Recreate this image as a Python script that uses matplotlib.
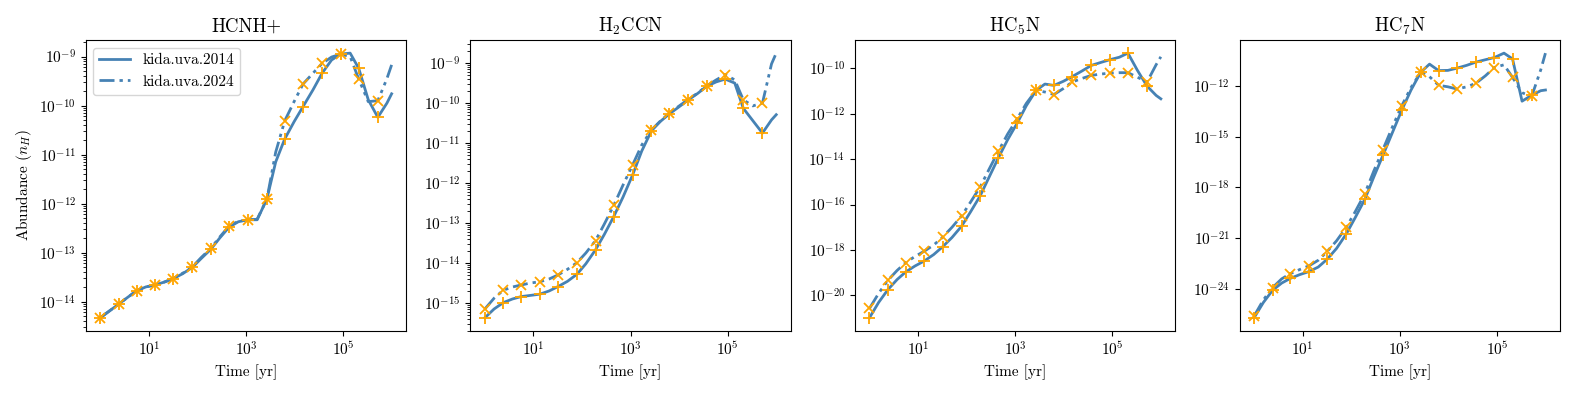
import numpy as np
import matplotlib
matplotlib.use("Agg")
import matplotlib.pyplot as plt
from matplotlib.ticker import NullLocator

plt.rcParams['font.family'] = 'serif'
plt.rcParams['font.serif'] = ['cmr10', 'DejaVu Serif']
plt.rcParams['mathtext.fontset'] = 'cm'
plt.rcParams['axes.formatter.use_mathtext'] = True
plt.rcParams['axes.unicode_minus'] = False

# Time grid [yr]
time_yr = [1, 1.55, 2.4, 3.7, 5.6, 8.7, 13.5, 21, 32, 50, 79, 120, 190, 290, 450,
           700, 1100, 1700, 2700, 4100, 6300, 9800, 15000, 24000, 37000, 58000,
           89000, 140000, 210000, 330000, 520000, 800000, 1000000]

species = ["HCNH+", "H$_2$CCN", "HC$_5$N", "HC$_7$N"]
networks = ["kida.uva.2014", "kida.uva.2024"]

# log10 abundances
hcnh_2014 = [-14.33, -14.19, -14.05, -13.91, -13.78, -13.70, -13.66, -13.60, -13.53, -13.43,
             -13.30, -13.12, -12.93, -12.70, -12.48, -12.37, -12.33, -12.33, -11.91, -11.15,
             -10.68, -10.33, -10.02, -9.68, -9.34, -9.07, -8.95, -8.93, -9.24, -9.88,
             -10.24, -9.95, -9.76]
hcnh_2024 = [-14.33, -14.19, -14.05, -13.91, -13.78, -13.70, -13.66, -13.60, -13.53, -13.42,
             -13.29, -13.10, -12.91, -12.68, -12.46, -12.36, -12.33, -12.32, -11.91, -10.95,
             -10.31, -9.92, -9.56, -9.34, -9.14, -9.01, -8.95, -9.00, -9.46, -9.92,
             -9.90, -9.45, -9.17]

h2ccn_2014 = [-15.37, -15.15, -14.99, -14.90, -14.84, -14.81, -14.78, -14.70, -14.59, -14.46,
              -14.28, -14.02, -13.67, -13.28, -12.84, -12.35, -11.80, -11.20, -10.69, -10.46,
              -10.27, -10.10, -9.93, -9.76, -9.58, -9.47, -9.40, -9.50, -10.13, -10.44,
              -10.75, -10.42, -10.29]
h2ccn_2024 = [-15.15, -14.88, -14.68, -14.60, -14.55, -14.50, -14.47, -14.40, -14.30, -14.16,
              -13.99, -13.75, -13.44, -13.02, -12.56, -12.05, -11.55, -11.05, -10.67, -10.45,
              -10.25, -10.08, -9.92, -9.75, -9.57, -9.42, -9.29, -9.42, -9.92, -10.07,
              -10.00, -9.02, -8.75]

hc5n_2014 = [-20.98, -20.30, -19.74, -19.30, -18.96, -18.70, -18.48, -18.20, -17.86, -17.45,
             -16.95, -16.33, -15.62, -14.80, -13.95, -13.15, -12.42, -11.65, -10.98, -10.70,
             -10.76, -10.58, -10.37, -10.12, -9.88, -9.75, -9.63, -9.52, -9.34, -10.10,
             -10.79, -11.20, -11.35]
hc5n_2024 = [-20.57, -19.90, -19.33, -18.90, -18.55, -18.28, -18.05, -17.78, -17.44, -17.00,
             -16.50, -15.90, -15.23, -14.45, -13.66, -12.90, -12.23, -11.55, -10.98, -11.05,
             -11.16, -10.90, -10.61, -10.45, -10.32, -10.26, -10.22, -10.20, -10.20, -10.40,
             -10.61, -9.85, -9.50]

hc7n_2014 = [-25.70, -24.80, -24.08, -23.65, -23.37, -23.15, -22.97, -22.70, -22.24, -21.60,
             -20.75, -19.80, -18.71, -17.40, -16.10, -14.78, -13.43, -12.25, -11.19, -10.71,
             -11.09, -11.08, -10.95, -10.78, -10.59, -10.45, -10.32, -10.06, -10.40, -12.90,
             -12.55, -12.28, -12.24]
hc7n_2024 = [-25.60, -24.65, -23.92, -23.40, -23.09, -22.85, -22.63, -22.30, -21.78, -21.15,
             -20.36, -19.45, -18.38, -17.05, -15.76, -14.45, -13.17, -12.10, -11.19, -11.45,
             -11.96, -12.05, -12.18, -12.05, -11.84, -11.40, -10.91, -10.75, -11.49, -12.40,
             -12.62, -11.05, -10.06]

series_2014 = [hcnh_2014, h2ccn_2014, hc5n_2014, hc7n_2014]
series_2024 = [hcnh_2024, h2ccn_2024, hc5n_2024, hc7n_2024]

xtick_exps = [1, 3, 5]
ytick_exps = [
    [-14, -13, -12, -11, -10, -9],
    [-15, -14, -13, -12, -11, -10, -9],
    [-20, -18, -16, -14, -12, -10],
    [-24, -21, -18, -15, -12],
]
minor_y = [True, True, False, False]

line_color = "#4682b4"
marker_color = "#ffa500"

fig, axes = plt.subplots(1, 4, figsize=(15.78, 3.95), dpi=100)
fig.subplots_adjust(left=0.0543, right=0.9886, bottom=0.162, top=0.899, wspace=0.2)

t = np.array(time_yr)
for i, ax in enumerate(axes):
    y14 = 10.0 ** np.array(series_2014[i])
    y24 = 10.0 ** np.array(series_2024[i])
    ax.plot(t, y14, color=line_color, lw=2, ls='-', label=networks[0])
    ax.plot(t, y24, color=line_color, lw=2, ls=(0, (5.4, 1.8, 1.2, 1.8, 1.2, 1.8)),
            label=networks[1])
    ax.plot(t[:31:2], y14[:31:2], ls='none', marker='+', color=marker_color,
            ms=8, mew=1.3, zorder=3)
    ax.plot(t[:31:2], y24[:31:2], ls='none', marker='x', color=marker_color,
            ms=7, mew=1.3, zorder=3)
    ax.set_xscale('log')
    ax.set_yscale('log')
    ax.set_xticks([10.0 ** e for e in xtick_exps])
    ax.xaxis.set_minor_locator(NullLocator())
    ax.set_yticks([10.0 ** e for e in ytick_exps[i]])
    if not minor_y[i]:
        ax.yaxis.set_minor_locator(NullLocator())
    ax.tick_params(labelsize=11)
    ax.set_title(species[i], fontsize=13.5)
    ax.set_xlabel("Time [yr]", fontsize=11)
    ax.autoscale(enable=True)
    ax.margins(0.05)

axes[0].set_ylabel("Abundance ($n_H$)", fontsize=11)
axes[0].legend(loc='upper left', fontsize=11)

fig.savefig("out.png", dpi=100)
